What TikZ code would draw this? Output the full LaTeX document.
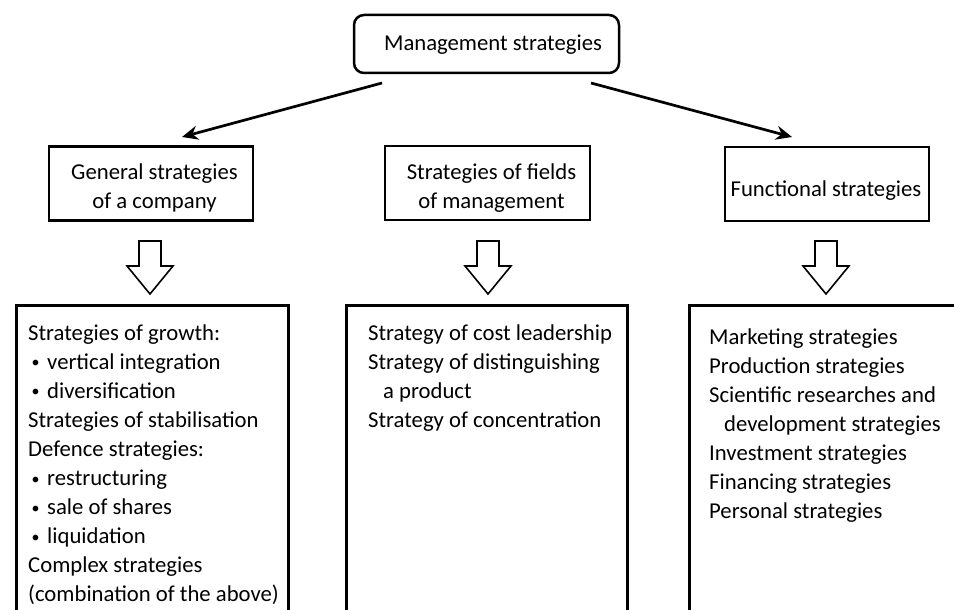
\documentclass[tikz,border=0pt]{standalone}
\usepackage{fontspec}
\setmainfont{Carlito}
\usetikzlibrary{arrows.meta}
\newcommand\mybullet{\makebox[19pt][l]{\hspace*{3.5pt}\raisebox{1.5pt}{\fontsize{16}{16}\selectfont •}}}
\begin{document}
\begin{tikzpicture}[x=1pt,y=-1pt]
\tikzset{
  txt/.style={font=\fontsize{22.7}{29.1}\selectfont, inner sep=0pt, anchor=base west},
  ctxt/.style={txt, anchor=base},
  frame/.style={draw, line width=2.5pt, inner sep=0pt, minimum height=74pt},
  listframe/.style={draw, line width=2.5pt, inner sep=0pt, anchor=north west, minimum height=400pt},
  link/.style={line width=2.7pt, -{Stealth[length=16pt,width=14pt]}},
  blockarrow/.style={draw, line width=1.6pt, line join=miter},
}
\fill[white] (0,0) rectangle (954,610);
\clip (0,0) rectangle (954,610);
\useasboundingbox (0,0) rectangle (954,610);

% top box
\node[draw, line width=2.5pt, rounded corners=10pt, minimum width=265pt, minimum height=58pt, inner sep=0pt] (top) at (486.5,44) {};
\node[ctxt] (toptext) at (493,50.5) {Management strategies};

% header boxes
\node[frame, minimum width=204pt] (h1) at (151,183.5) {};
\node[frame, minimum width=205pt] (h2) at (487.5,183) {};
\node[frame, minimum width=204pt] (h3) at (827,184) {};
\node[ctxt] (h1a) at (154.5,179) {General strategies};
\node[ctxt] (h1b) at (154.5,208) {of a company};
\node[ctxt] (h2a) at (491.5,179) {Strategies of fields};
\node[ctxt] (h2b) at (491.5,208) {of management};
\node[ctxt] (h3a) at (826,196.5) {Functional strategies};

% connectors
\coordinate (s1) at (382,83);
\coordinate (e1) at (182,137);
\coordinate (s2) at (591,83);
\coordinate (e2) at (792,137);
\draw[link] (s1) -- (e1);
\draw[link] (s2) -- (e2);

% block arrows
\foreach \c in {150,488,826}
  \draw[blockarrow] (\c-11,241) -- (\c+11,241) -- (\c+11,266) -- (\c+23,266)
     -- (\c,294) -- (\c-23,266) -- (\c-11,266) -- cycle;

% lower boxes
\node[listframe, minimum width=272pt] (b1) at (15,304) {};
\node[listframe, minimum width=281pt] (b2) at (345,304) {};
\node[listframe, minimum width=320pt] (b3) at (688,304) {};

\foreach \t [count=\i] in {Strategies of growth:, \mybullet vertical integration,
  \mybullet diversification, Strategies of stabilisation, Defence strategies:,
  \mybullet restructuring, \mybullet sale of shares, \mybullet liquidation,
  Complex strategies, (combination of the above)}
  \node[txt] (a\i) at (28,{340+29.1*(\i-1)}) {\t};

\foreach \t [count=\i] in {Strategy of cost leadership, Strategy of distinguishing,
  \hspace*{15pt}a product, Strategy of concentration}
  \node[txt] (m\i) at (368,{340+29.1*(\i-1)}) {\t};

\foreach \t [count=\i] in {Marketing strategies, Production strategies,
  Scientific researches and, \hspace*{15pt}development strategies,
  Investment strategies, Financing strategies, Personal strategies}
  \node[txt] (f\i) at (709,{344+29.1*(\i-1)}) {\t};
\end{tikzpicture}
\end{document}
